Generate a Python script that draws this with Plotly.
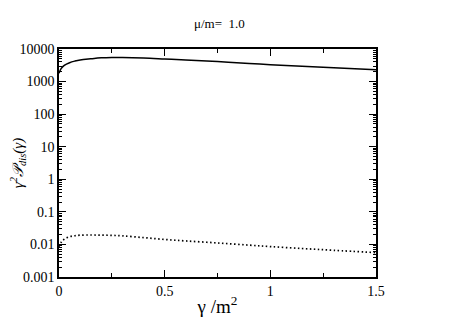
import plotly.graph_objects as go

gamma = [0.0, 0.01, 0.025, 0.05, 0.075, 0.1, 0.15, 0.2, 0.25, 0.3, 0.4, 0.5, 0.6, 0.75, 0.9, 1.0, 1.15, 1.3, 1.5]
solid = [1800, 2500, 3150, 3800, 4250, 4600, 5000, 5350, 5500, 5500, 5300, 4950, 4600, 4100, 3600, 3300, 2950, 2650, 2300]
dotted = [0.0085, 0.0115, 0.0145, 0.0172, 0.0185, 0.0192, 0.0195, 0.0193, 0.019, 0.0183, 0.0162, 0.0142, 0.0128, 0.0111, 0.0095, 0.0086, 0.0075, 0.0066, 0.0056]

ytick_vals = [0.001, 0.01, 0.1, 1, 10, 100, 1000, 10000]
ytick_text = ['0.001', '0.01', '0.1', '1', '10', '100', '1000', '10000']
xtick_vals = [0, 0.5, 1, 1.5]
xtick_text = ['0', '0.5', '1', '1.5']

minor_y = [m * 10 ** e for e in range(-3, 4) for m in range(2, 10)]

fig = go.Figure()
fig.add_trace(go.Scatter(x=gamma, y=solid, mode='lines', line_shape='spline',
                         line=dict(color='black', width=1.5)))
fig.add_trace(go.Scatter(x=gamma, y=dotted, mode='lines', line_shape='spline',
                         line=dict(color='black', width=1.7, dash='1.5px,2.5px')))

font = '"Liberation Serif", "DejaVu Serif", serif'
# the page body adds a small offset, so margins are reduced by 8
L, R, T, B = 51, 87, 41, 50
W, H = 455, 319
fig.update_layout(
    width=W, height=H,
    margin=dict(l=L, r=R, t=T, b=B),
    paper_bgcolor='white', plot_bgcolor='white',
    showlegend=False,
    font=dict(family=font, color='black', size=13),
    annotations=[
        dict(text='μ/m=  1.0', xref='paper', yref='paper', showarrow=False,
             x=(219 - 8 - L) / (W - L - R), y=1 + (T - 15) / (H - T - B),
             yanchor='middle', font=dict(size=13, family=font)),
    ],
)

fig.update_xaxes(
    range=[0, 1.5], tickvals=xtick_vals, ticktext=xtick_text,
    ticks='inside', ticklen=7, tickwidth=1, tickcolor='black',
    showline=True, linecolor='black', linewidth=1.5, mirror='ticks',
    showgrid=False, zeroline=False, automargin=False,
    minor=dict(tickvals=[0.25, 0.75, 1.25], ticks='inside', ticklen=4, tickcolor='black', showgrid=False),
    title=dict(text='γ /m<sup>2</sup>', font=dict(size=19, family=font), standoff=2),
    tickfont=dict(size=14, family=font),
)
fig.update_yaxes(
    type='log', range=[-3, 4], tickvals=ytick_vals, ticktext=ytick_text,
    ticks='inside', ticklen=7, tickwidth=1, tickcolor='black',
    showline=True, linecolor='black', linewidth=1.5, mirror='ticks',
    showgrid=False, zeroline=False, automargin=False,
    minor=dict(tickvals=minor_y, ticks='inside', ticklen=3, tickcolor='black', showgrid=False),
    title=dict(text='<i>γ<sup>2</sup>𝒫<sub>dis</sub>(γ)</i>', font=dict(size=15, family=font), standoff=2),
    tickfont=dict(size=14, family=font),
    ticklabelstandoff=0,
)

fig.write_html("out.html")
